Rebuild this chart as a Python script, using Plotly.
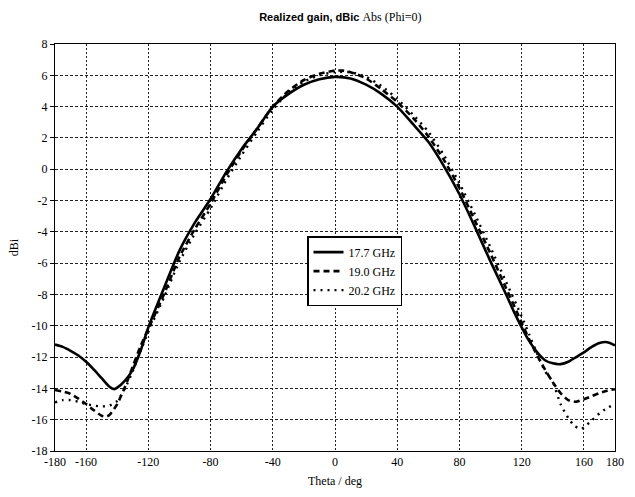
import plotly.graph_objects as go

theta_a = [-180, -175, -170, -165, -160, -155, -150, -145, -142, -140, -135, -130, -125, -120,
           -110, -100, -90, -80, -70, -60, -50, -40, -30, -20, -10, 0, 10, 20, 30, 40, 50, 60,
           70, 80, 90, 100, 110, 115, 120, 125, 130, 135, 140, 145, 150, 155, 160, 165, 170, 175, 180]
gain_177 = [-11.2, -11.35, -11.6, -11.9, -12.3, -12.8, -13.35, -13.9, -14.05, -13.95, -13.5, -12.8, -11.6, -10.1,
            -7.6, -5.2, -3.4, -1.9, -0.2, 1.3, 2.6, 4.0, 4.8, 5.4, 5.75, 5.9, 5.8, 5.4, 4.8, 4.0, 2.9, 1.75,
            0.2, -1.6, -3.7, -5.9, -8.0, -9.1, -10.1, -11.0, -11.7, -12.2, -12.4, -12.45, -12.3, -12.0, -11.7,
            -11.35, -11.1, -11.05, -11.25]

theta_b = [-180, -175, -170, -165, -160, -155, -150, -147, -145, -140, -135, -130, -125, -120,
           -110, -100, -90, -80, -70, -60, -50, -40, -30, -20, -10, 0, 5, 10, 20, 30, 40, 50, 60,
           70, 80, 90, 100, 110, 120, 125, 130, 135, 140, 145, 150, 155, 160, 165, 170, 175, 180]
gain_190 = [-14.1, -14.2, -14.35, -14.65, -15.0, -15.4, -15.75, -15.8, -15.7, -15.0, -13.9, -12.6, -11.3, -10.2,
            -8.0, -5.6, -3.8, -2.2, -0.4, 1.2, 2.6, 4.0, 5.0, 5.7, 6.1, 6.3, 6.3, 6.2, 5.8, 5.1, 4.3, 3.3, 2.1,
            0.6, -1.2, -3.3, -5.4, -7.6, -9.8, -10.9, -11.9, -12.8, -13.6, -14.3, -14.75, -14.85, -14.7,
            -14.5, -14.3, -14.15, -14.05]

theta_c = [-180, -175, -170, -165, -160, -155, -150, -145, -140, -135, -130, -125, -120,
           -110, -100, -90, -80, -70, -60, -50, -40, -30, -20, -10, 0, 10, 20, 30, 40, 50, 60,
           70, 80, 90, 100, 110, 120, 125, 130, 135, 140, 145, 150, 154, 158, 160, 165, 170, 175, 180]
gain_202 = [-14.9, -14.75, -14.75, -14.85, -15.0, -15.1, -15.15, -15.1, -14.8, -14.0, -12.9, -11.6, -10.4,
            -8.2, -5.9, -4.1, -2.5, -0.7, 0.9, 2.4, 3.8, 4.9, 5.6, 6.0, 6.2, 6.2, 5.9, 5.3, 4.5, 3.5, 2.4,
            0.9, -0.9, -2.9, -5.0, -7.2, -9.4, -10.6, -11.8, -12.9, -13.6, -15.0, -15.9, -16.4, -16.6,
            -16.5, -16.05, -15.6, -15.25, -15.0]

series_names = ["17.7 GHz", "19.0 GHz", "20.2 GHz"]
x_ticks = [-180, -160, -120, -80, -40, 0, 40, 80, 120, 160, 180]
y_ticks = list(range(-18, 9, 2))

serif = "Times New Roman, Liberation Serif, DejaVu Serif, serif"

fig = go.Figure()
fig.add_trace(go.Scatter(x=theta_a, y=gain_177, name=series_names[0], mode="lines",
                         line=dict(color="black", width=2.6, dash="solid", shape="spline", smoothing=0.6)))
fig.add_trace(go.Scatter(x=theta_b, y=gain_190, name=series_names[1], mode="lines",
                         line=dict(color="black", width=2.6, dash="6px,4px", shape="spline", smoothing=0.6)))
fig.add_trace(go.Scatter(x=theta_c, y=gain_202, name=series_names[2], mode="lines",
                         line=dict(color="black", width=2.4, dash="2px,5px", shape="spline", smoothing=0.6)))

fig.update_layout(
    width=635, height=497,
    margin=dict(l=55, r=11, t=44, b=42),
    paper_bgcolor="white", plot_bgcolor="white",
    title=dict(
        text="<b>Realized gain, dBic</b> <span style='font-family:Times New Roman, Liberation Serif, serif;font-size:12px'>Abs (Phi=0)</span>",
        x=0.536, xanchor="center", y=0.966, yanchor="middle",
        font=dict(family="Arial, Liberation Sans, sans-serif", size=11, color="black")),
    showlegend=True,
    legend=dict(x=0.45, y=0.528, xanchor="left", yanchor="top",
                bgcolor="white", bordercolor="black", borderwidth=1.5,
                font=dict(family=serif, size=12, color="black"),
                tracegroupgap=0, itemwidth=30),
    font=dict(family=serif, size=12, color="black"),
)

fig.update_xaxes(range=[-180, 180], tickvals=x_ticks, ticktext=[str(v) for v in x_ticks],
                 showline=True, linecolor="black", linewidth=1, mirror=True,
                 ticks="",
                 showgrid=True, gridcolor="#222222", gridwidth=1, griddash="2px,2px",
                 zeroline=False,
                 title=dict(text="Theta / deg", font=dict(family=serif, size=12), standoff=8),
                 tickfont=dict(family=serif, size=12))
fig.update_yaxes(range=[-18, 8], tickvals=y_ticks, ticktext=[str(v) for v in y_ticks],
                 showline=True, linecolor="black", linewidth=1, mirror=True,
                 ticks="outside", ticklen=4, tickcolor="black",
                 showgrid=True, gridcolor="#222222", gridwidth=1, griddash="3px,2px",
                 zeroline=False,
                 title=dict(text="dBi", font=dict(family=serif, size=12), standoff=10),
                 tickfont=dict(family=serif, size=12))

fig.write_html("out.html")
